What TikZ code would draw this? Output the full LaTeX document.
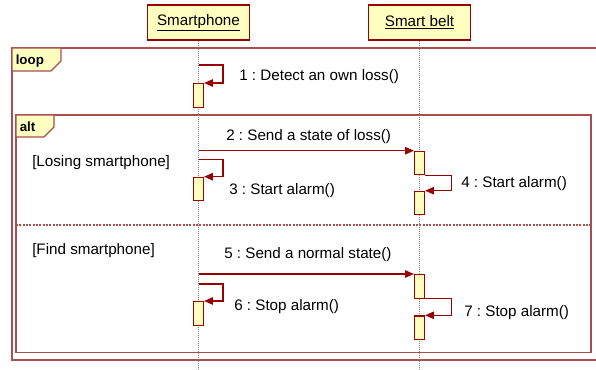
\documentclass[tikz,border=0pt]{standalone}
\usepackage{fontspec}
\setmainfont{Liberation Sans}
\usetikzlibrary{arrows.meta}
\frenchspacing
\definecolor{seqred}{HTML}{990000}
\definecolor{framered}{HTML}{A84E50}
\definecolor{seqfill}{HTML}{FFFFC0}
\begin{document}
\begin{tikzpicture}[x=0.75pt,y=-0.75pt,
        head/.style={draw=seqred,fill=seqfill,line width=0.9pt,minimum width=76pt,minimum height=26.25pt,inner sep=0,font=\fontsize{11.4}{13}\selectfont},
        bar/.style={anchor=north,draw=seqred,fill=seqfill,line width=0.9pt,minimum width=7.5pt,minimum height=17.7pt,inner sep=0},
        lifeline/.style={densely dotted,gray,line width=0.5pt},
        frame/.style={draw=framered,line width=0.9pt},
        tab/.style={draw=framered,fill=seqfill,line width=0.9pt},
        msg/.style={draw=seqred,line width=0.9pt,-{Triangle[length=6.5pt,width=5.5pt]}},
        lbl/.style={anchor=west,inner sep=0,font=\fontsize{11.4}{13}\selectfont},
        kw/.style={anchor=west,inner sep=0,font=\fontsize{10}{12}\selectfont\bfseries}]
    \useasboundingbox (0,0) rectangle (596,370);
    %% combined fragments
    \draw[frame] (12,48) rectangle (602,360);
    \draw[tab] (12,48) -- (61,48) -- (61,61) -- (51,71) -- (12,71) -- cycle;
    \node[kw] (loopkw) at (15.5,61.2) {loop};
    \draw[frame] (16,115) rectangle (591,352.7);
    \draw[tab] (16,115) -- (54,115) -- (54,127) -- (44,137) -- (16,137) -- cycle;
    \node[kw] (altkw) at (19.5,127) {alt};
    \draw[framered,line width=0.8pt,dash pattern=on 1.5pt off 1pt] (16,225) -- (591,225);
    %% lifelines
    \node[head] (phone) at (198.5,22.5) {\underline{Smartphone}};
    \node[head] (belt) at (419.5,22.5) {\underline{Smart belt}};
    \coordinate (phoneEnd) at (198.5,370);
    \coordinate (beltEnd) at (419.5,370);
    \draw[lifeline] (phone) -- (phoneEnd);
    \draw[lifeline] (belt) -- (beltEnd);
    %% activation bars
    \node[bar] (b1) at (198.5,83) {};
    \node[bar] (b2) at (419.5,150.7) {};
    \node[bar] (b3) at (198.5,176.7) {};
    \node[bar] (b4) at (419.5,190.7) {};
    \node[bar] (b5) at (419.5,274) {};
    \node[bar] (b6) at (198.5,301) {};
    \node[bar] (b7) at (419.5,315.3) {};
    %% messages
    \coordinate (m1s) at (198.5,65);
    \coordinate (m2s) at (198.5,150.7);
    \coordinate (m3s) at (198.5,159.3);
    \coordinate (m5s) at (198.5,274);
    \coordinate (m6s) at (198.5,284);
    \draw[msg] (m1s) -- ++(24.5,0) |- (b1.north east);
    \draw[msg] (m2s) -- (b2.north west);
    \draw[msg] (m3s) -- ++(24.5,0) |- (b3.north east);
    \draw[msg] (b2.south east) -- ++(26,0) |- (b4.north east);
    \draw[msg] (m5s) -- (b5.north west);
    \draw[msg] (m6s) -- ++(24.5,0) |- (b6.north east);
    \draw[msg] (b5.south east) -- ++(26,0) |- (b7.north east);
    %% labels
    \node[lbl] (l1) at (239,76.5) {1 : Detect an own loss()};
    \node[lbl] (l2) at (226,136.2) {2 : Send a state of loss()};
    \node[lbl] (l3) at (229,190.8) {3 : Start alarm()};
    \node[lbl] (l4) at (461,183.8) {4 : Start alarm()};
    \node[lbl] (g1) at (32,162.3) {[Losing smartphone]};
    \node[lbl] (g2) at (32,250.3) {[Find smartphone]};
    \node[lbl] (l5) at (224,254.3) {5 : Send a normal state()};
    \node[lbl] (l6) at (234,306.2) {6 : Stop alarm()};
    \node[lbl] (l7) at (464,312.7) {7 : Stop alarm()};
\end{tikzpicture}
\end{document}
